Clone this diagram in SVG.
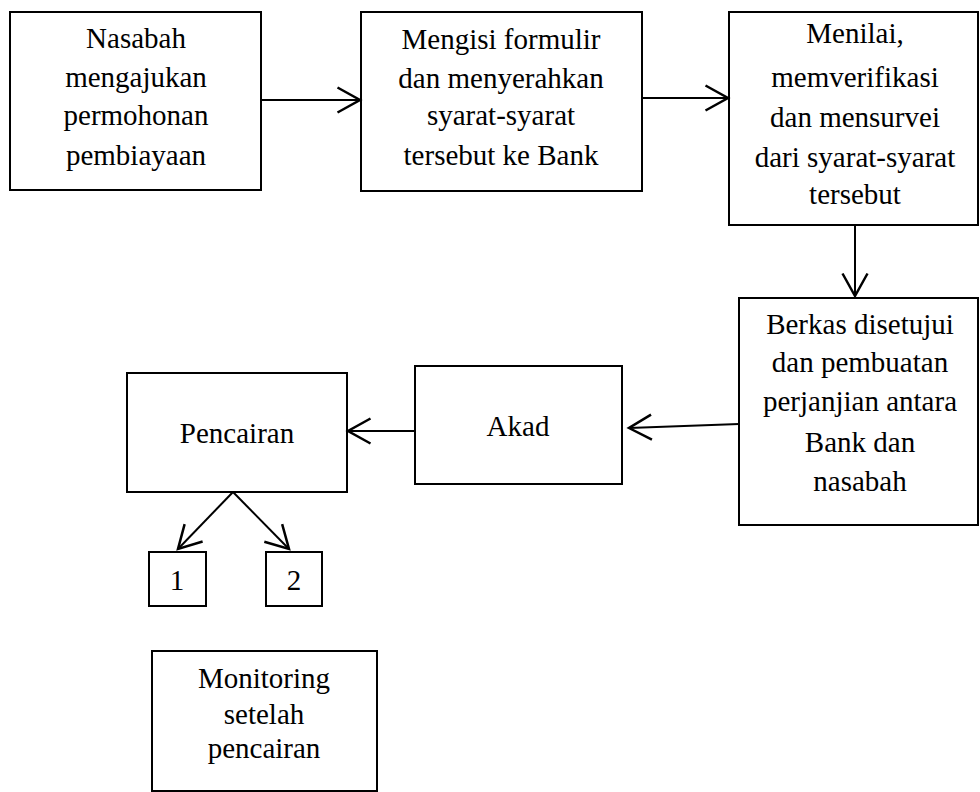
<svg xmlns="http://www.w3.org/2000/svg" width="980" height="792" viewBox="0 0 980 792">
<style>
.box{fill:#fff;stroke:#000;stroke-width:2}
text{font-family:'Liberation Serif','Times New Roman',serif;font-size:29px;fill:#000;text-anchor:middle}
.c{stroke:#000;stroke-width:2;fill:none;marker-end:url(#ah)}
</style>
<defs>
<marker id="ah" markerUnits="userSpaceOnUse" markerWidth="30" markerHeight="30" viewBox="-20 -12 22 24" refX="0" refY="0" orient="auto">
<path d="M-18,-10 L0,0 L-18,10" fill="none" stroke="#000" stroke-width="2"/>
</marker>
</defs>
<rect width="980" height="792" fill="#fff"/>
<g id="n1"><rect class="box" x="10" y="12" width="251" height="178"/>
<text><tspan x="136" y="48">Nasabah</tspan><tspan x="136" y="87">mengajukan</tspan><tspan x="136" y="125">permohonan</tspan><tspan x="136" y="165">pembiayaan</tspan></text></g>
<g id="n2"><rect class="box" x="361" y="12" width="281" height="179"/>
<text><tspan x="501" y="49">Mengisi formulir</tspan><tspan x="501" y="88">dan menyerahkan</tspan><tspan x="501" y="125">syarat-syarat</tspan><tspan x="501" y="165">tersebut ke Bank</tspan></text></g>
<g id="n3"><rect class="box" x="729" y="12" width="249" height="213"/>
<text><tspan x="855" y="43">Menilai,</tspan><tspan x="855" y="87">memverifikasi</tspan><tspan x="855" y="127">dan mensurvei</tspan><tspan x="855" y="167">dari syarat-syarat</tspan><tspan x="855" y="204">tersebut</tspan></text></g>
<g id="n4"><rect class="box" x="739" y="298" width="239" height="227"/>
<text><tspan x="860" y="334">Berkas disetujui</tspan><tspan x="860" y="372">dan pembuatan</tspan><tspan x="860" y="411">perjanjian antara</tspan><tspan x="860" y="452">Bank dan</tspan><tspan x="860" y="491">nasabah</tspan></text></g>
<g id="n5"><rect class="box" x="415" y="366" width="207" height="118"/>
<text x="518" y="436">Akad</text></g>
<g id="n6"><rect class="box" x="127" y="373" width="220" height="119"/>
<text x="237" y="443">Pencairan</text></g>
<g id="n7"><rect class="box" x="149" y="552" width="57" height="54"/>
<text x="177" y="590">1</text></g>
<g id="n8"><rect class="box" x="266" y="552" width="56" height="54"/>
<text x="294" y="590">2</text></g>
<g id="n9"><rect class="box" x="152" y="651" width="225" height="140"/>
<text><tspan x="264" y="688">Monitoring</tspan><tspan x="264" y="724">setelah</tspan><tspan x="264" y="758">pencairan</tspan></text></g>
<g id="connectors">
<line class="c" x1="261" y1="100" x2="360" y2="100"/>
<line class="c" x1="642" y1="98" x2="728" y2="98"/>
<line class="c" x1="855" y1="225" x2="855" y2="296"/>
<line class="c" x1="739" y1="424" x2="629" y2="428"/>
<line class="c" x1="415" y1="431" x2="348" y2="431"/>
<line class="c" x1="233" y1="492" x2="178" y2="549"/>
<line class="c" x1="233" y1="492" x2="289" y2="549"/>
</g>
</svg>
